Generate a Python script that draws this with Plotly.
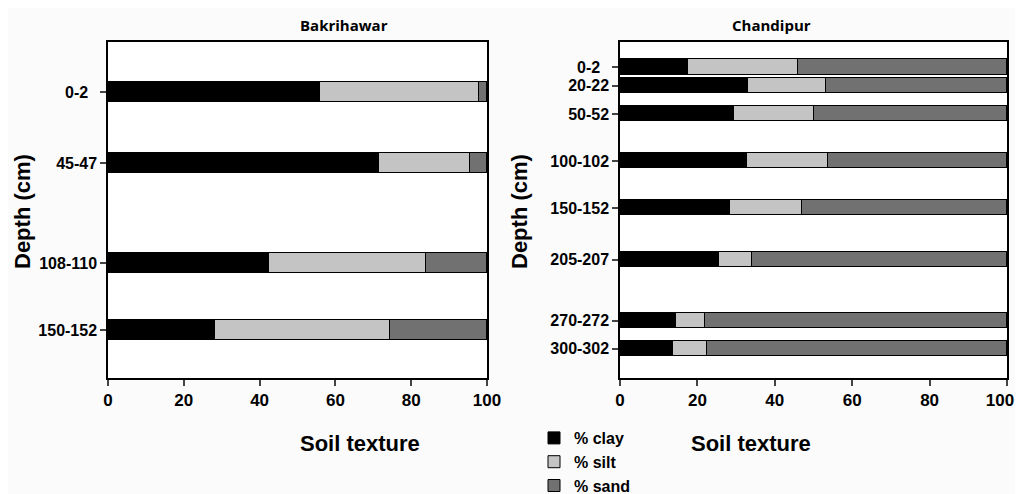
import plotly.graph_objects as go

# Bakrihawar
bak_labels = ["0-2\u00a0\u00a0", "45-47", "108-110", "150-152"]
bak_depth = [1, 46, 109, 151]
bak_clay = [56.0, 71.5, 42.5, 28.1]
bak_silt = [41.9, 24.0, 41.5, 46.3]
bak_sand = [2.1, 4.5, 16.0, 25.6]

# Chandipur
cha_labels = ["0-2\u00a0\u00a0", "20-22", "50-52", "100-102", "150-152", "205-207", "270-272", "300-302"]
cha_depth = [1, 21, 51, 101, 151, 206, 271, 301]
cha_clay = [17.6, 33.0, 29.4, 32.7, 28.4, 25.7, 14.4, 13.7]
cha_silt = [28.5, 20.3, 20.8, 21.1, 18.5, 8.4, 7.6, 8.9]
cha_sand = [53.9, 46.7, 49.8, 46.2, 53.1, 65.9, 78.0, 77.4]

x_ticks = [0, 20, 40, 60, 80, 100]
series_names = ["% clay", "% silt", "% sand"]
colors = ["#000000", "#c4c4c4", "#717171"]

# page is shown with the default 8px body margin
OFF = 8
W, H = 1015, 486


def px(X):
    return (X - OFF) / W


def py(Y):
    return 1 - (Y - OFF) / H


fig = go.Figure()
for i, (name, vals) in enumerate(zip(series_names, [bak_clay, bak_silt, bak_sand])):
    fig.add_trace(go.Bar(orientation="h", x=vals, y=bak_depth, name=name, width=12.6,
                         marker=dict(color=colors[i], line=dict(color="black", width=1)),
                         xaxis="x", yaxis="y", showlegend=True))
for i, (name, vals) in enumerate(zip(series_names, [cha_clay, cha_silt, cha_sand])):
    fig.add_trace(go.Bar(orientation="h", x=vals, y=cha_depth, name=name, width=16,
                         marker=dict(color=colors[i], line=dict(color="black", width=1)),
                         xaxis="x2", yaxis="y2", showlegend=False))

tickfont = dict(family="Liberation Sans", size=16, color="black", weight="bold")
xcommon = dict(range=[0, 100], tickvals=x_ticks, ticks="outside", ticklen=6, automargin=False,
               tickwidth=1.5, linecolor="black", linewidth=1.5, mirror=True, showgrid=False,
               zeroline=False, ticklabeloverflow="allow",
               tickfont=dict(family="Liberation Sans", size=17, color="black", weight="bold"))
ycommon = dict(ticks="outside", ticklen=6, tickwidth=1.5, linecolor="black", linewidth=1.5,
               automargin=False, mirror=True, showgrid=False, zeroline=False, tickfont=tickfont)

yd = [py(378), py(42)]
fig.update_layout(
    width=W, height=H,
    margin=dict(l=0, r=0, t=0, b=0, autoexpand=False),
    paper_bgcolor="#fbfbfb", plot_bgcolor="white",
    barmode="stack", bargap=0,
    font=dict(family="Liberation Sans", color="black"),
    xaxis=dict(domain=[px(108), px(487)], anchor="y", **xcommon),
    yaxis=dict(domain=yd, anchor="x", range=[181.2, -30.5], tickvals=bak_depth,
               ticktext=bak_labels, **ycommon),
    xaxis2=dict(domain=[px(620), px(1007)], anchor="y2",
                ticktext=[str(t) for t in x_ticks[:-1]] + ["100\u00a0\u00a0\u00a0"], **xcommon),
    yaxis2=dict(domain=yd, anchor="x2", range=[332, -25.6], tickvals=cha_depth,
                ticktext=cha_labels, **ycommon),
    legend=dict(x=px(534), y=py(421), xanchor="left", yanchor="top",
                font=dict(family="Liberation Sans", size=16, color="black", weight="bold"),
                bgcolor="rgba(0,0,0,0)", traceorder="normal", itemwidth=30,
                tracegroupgap=0),
)

ann = []
for xc, title in [(298, "Bakrihawar"), (813, "Chandipur")]:
    ann.append(dict(x=px(xc), y=py(25), xref="paper", yref="paper", showarrow=False,
                    text=title, yanchor="middle",
                    font=dict(family="Open Sans", size=15, color="black", weight="bold")))
    ann.append(dict(x=px(xc), y=py(443), xref="paper", yref="paper", showarrow=False,
                    text="Soil texture", yanchor="middle",
                    font=dict(family="Liberation Sans", size=22, color="black", weight="bold")))
for xc in [22, 519]:
    ann.append(dict(x=px(xc), y=py(212), xref="paper", yref="paper", showarrow=False,
                    textangle=-90, text="Depth (cm)", xanchor="center", yanchor="middle",
                    font=dict(family="Liberation Sans", size=22, color="black", weight="bold")))
fig.update_layout(annotations=ann)

fig.write_html("out.html")
